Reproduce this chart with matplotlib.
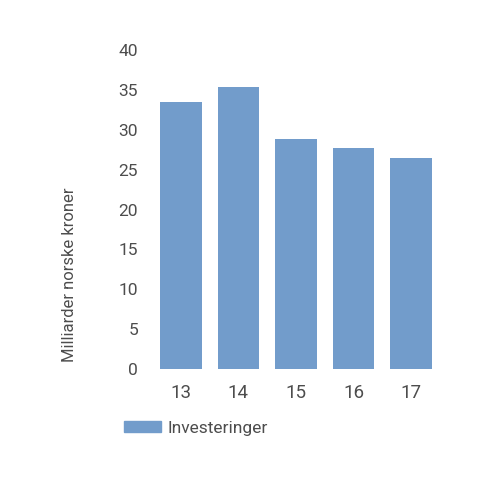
import matplotlib
matplotlib.use("Agg")
import matplotlib.pyplot as plt
from matplotlib.patches import Patch

plt.rcParams['font.family'] = ['Roboto', 'DejaVu Sans']

years = ["13", "14", "15", "16", "17"]
investeringer = [33.5, 35.3, 28.8, 27.7, 26.4]
yticks = [0, 5, 10, 15, 20, 25, 30, 35, 40]

bar_color = "#729ccb"
text_color = "#4d4d4d"

fig = plt.figure(figsize=(5, 5), dpi=100)
ax = fig.add_axes([0.304, 0.262, 0.576, 0.638])

ax.bar(range(len(years)), investeringer, width=0.72, color=bar_color)
ax.set_xlim(-0.5, len(years) - 0.5)
ax.set_ylim(0, 40)
ax.set_yticks(yticks)
ax.set_xticks(range(len(years)))
ax.set_xticklabels(years)

for s in ax.spines.values():
    s.set_visible(False)
ax.tick_params(axis="both", length=0, colors=text_color)
ax.tick_params(axis="y", pad=10, labelsize=12.5)
ax.tick_params(axis="x", pad=11, labelsize=13.5)

fig.text(0.14, 0.45, "Milliarder norske kroner", rotation=90, ha="center", va="center",
         fontsize=12, color=text_color)

fig.legend(handles=[Patch(color=bar_color, label="Investeringer")],
           loc="center left", bbox_to_anchor=(0.217, 0.143), frameon=False,
           fontsize=12.5, handlelength=2.1, handleheight=0.6, handletextpad=0.4,
           labelcolor=text_color)

fig.savefig("out.png", dpi=100)
